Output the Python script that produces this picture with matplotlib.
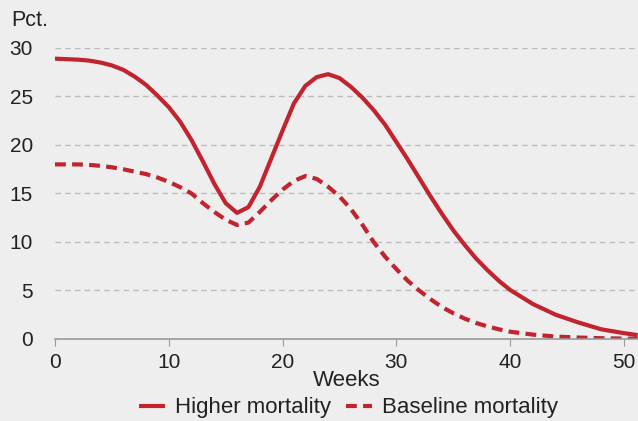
import matplotlib
matplotlib.use('Agg')
import matplotlib.pyplot as plt

plt.rcParams['font.family'] = ['Liberation Sans', 'DejaVu Sans']

# weekly share, per cent
weeks = [0, 2, 3, 4, 5, 6, 7, 8, 9, 10, 11, 12, 13, 14, 15, 16, 17, 18, 19, 20, 21, 22,
         23, 24, 25, 26, 27, 28, 29, 30, 31, 32, 33, 34, 35, 36, 37, 38, 39, 40,
         42, 44, 46, 48, 50, 51.2]
higher = [28.9, 28.8, 28.7, 28.5, 28.2, 27.75, 27.05, 26.2, 25.1, 23.9, 22.4, 20.5,
          18.3, 16.0, 14.0, 13.0, 13.6, 15.7, 18.6, 21.5, 24.3, 26.1, 27.0, 27.3,
          26.9, 26.0, 24.9, 23.6, 22.1, 20.3, 18.5, 16.6, 14.7, 12.9, 11.2, 9.7, 8.3,
          7.1, 6.0, 5.05, 3.6, 2.5, 1.7, 1.0, 0.6, 0.4]
baseline = [18.0, 18.0, 17.95, 17.85, 17.7, 17.5, 17.25, 17.0, 16.65, 16.2, 15.65,
            15.0, 14.0, 13.1, 12.3, 11.75, 12.0, 13.1, 14.3, 15.4, 16.3, 16.8, 16.5,
            15.7, 14.7, 13.4, 11.8, 10.0, 8.5, 7.2, 6.0, 5.0, 4.1, 3.3, 2.65, 2.1,
            1.65, 1.3, 1.0, 0.75, 0.45, 0.25, 0.15, 0.08, 0.04, 0.03]

red = '#c1232f'
bg = '#eeeeee'
ink = '#222222'

fig = plt.figure(figsize=(6.38, 4.21), dpi=100, facecolor=bg)
ax = fig.add_axes([0.0862, 0.1948, 0.9138, 0.6912], facecolor=bg)

ax.plot(weeks, higher, color=red, lw=3, label='Higher mortality', solid_capstyle='butt')
ax.plot(weeks, baseline, color=red, lw=3, ls=(0, (2.6, 1.5)), label='Baseline mortality')

ax.set_xlim(0, 51.23)
ax.set_ylim(0, 30)
ax.set_xticks(range(0, 51, 10))
ax.set_yticks(range(0, 31, 5))
for y in range(5, 31, 5):
    ax.axhline(y, color='#bbbbbb', lw=1, ls=(0, (4, 3)), zorder=0)

for s in ['top', 'right', 'left']:
    ax.spines[s].set_visible(False)
ax.spines['bottom'].set_color('#999999')
ax.spines['bottom'].set_linewidth(1.2)
ax.tick_params(axis='x', direction='out', length=5, color='#999999',
               labelsize=15, labelcolor=ink, pad=5)
ax.tick_params(axis='y', length=0, labelsize=15, labelcolor=ink, pad=16)

ax.set_xlabel('Weeks', fontsize=16, color=ink, labelpad=-1)
fig.text(0.018, 0.952, 'Pct.', fontsize=15.5, color=ink, va='center')

fig.legend(loc='center', bbox_to_anchor=(0.546, 0.031), ncol=2, frameon=False,
           fontsize=16, handlelength=1.15, columnspacing=0.7, handletextpad=0.45,
           labelcolor=ink)

fig.savefig('out.png', dpi=100, facecolor=bg)
